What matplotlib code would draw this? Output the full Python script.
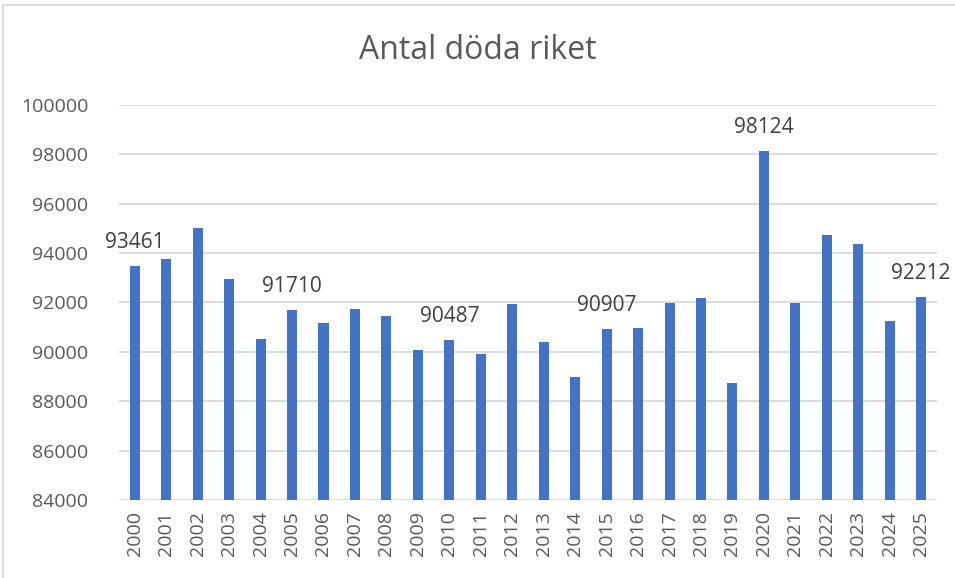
import matplotlib
matplotlib.use("Agg")
import matplotlib.pyplot as plt
from matplotlib.patches import Rectangle

plt.rcParams["font.family"] = ["Open Sans", "DejaVu Sans"]

years = [str(y) for y in range(2000, 2026)]
deaths = [93461, 93745, 95000, 92950, 90520, 91710, 91170, 91720, 91440, 90060,
          90487, 89910, 91940, 90380, 88970, 90907, 90960, 91960, 92170, 88750,
          98124, 91960, 94730, 94380, 91250, 92212]
labelled_years = ["2000", "2005", "2010", "2015", "2020", "2025"]
y_ticks = list(range(84000, 100001, 2000))

BAR = "#4472C4"
GRID = "#D9D9D9"
TEXT = "#595959"

fig = plt.figure(figsize=(9.55, 5.78), dpi=100)
ax = fig.add_axes([0.1246, 0.135, 0.8565, 0.6833])

x = range(len(years))
ax.bar(x, deaths, width=0.32, color=BAR, zorder=3)

for i, (yr, v) in enumerate(zip(years, deaths)):
    if yr in labelled_years:
        ax.annotate(str(v), (i, v), xytext=(0, 13), textcoords="offset points",
                    ha="center", va="baseline", fontsize=15, color="#404040")

ax.set_xlim(-0.5, len(years) - 0.5)
ax.set_ylim(84000, 100000)
ax.set_yticks(y_ticks)
ax.set_yticklabels([str(t) for t in y_ticks], fontsize=14, color=TEXT)
ax.set_xticks(list(x))
ax.set_xticklabels(years, rotation=90, fontsize=14, color=TEXT)
ax.tick_params(length=0, pad=8)
ax.tick_params(axis="y", pad=22)
ax.grid(axis="y", color=GRID, linewidth=1.3, zorder=0)
for s in ax.spines.values():
    s.set_visible(False)

fig.text(0.5, 0.913, "Antal döda riket", ha="center", va="center",
         fontsize=23, color=TEXT)

# chart-area frame
fig.patches.append(Rectangle((3 / 955, -0.1), 1.1, 1 - 5 / 578 + 0.1,
                             transform=fig.transFigure, fill=False,
                             edgecolor=GRID, linewidth=1.3))

fig.savefig("out.png", dpi=100)
